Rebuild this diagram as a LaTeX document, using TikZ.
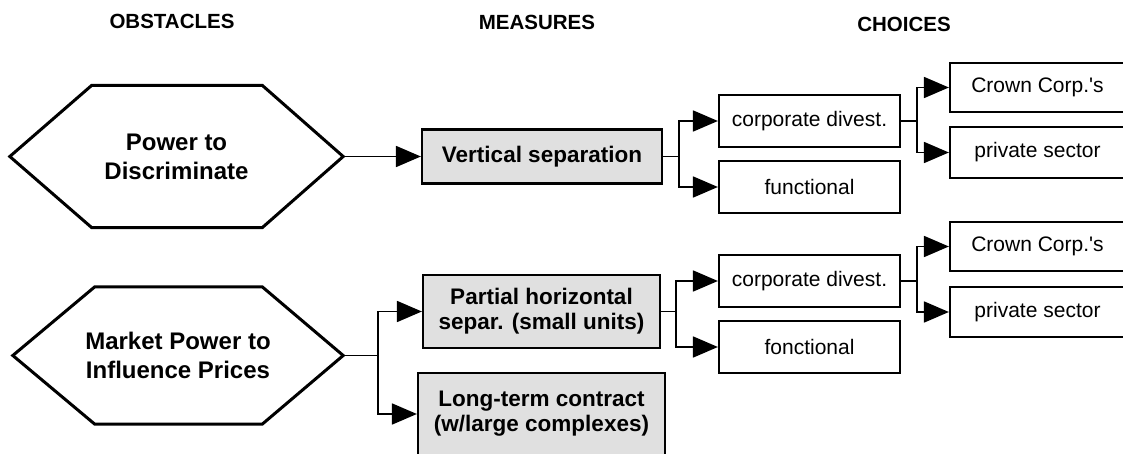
\documentclass[tikz,border=0pt]{standalone}
\usepackage{fontspec}
\setmainfont{Liberation Sans}
\usetikzlibrary{arrows.meta}
\definecolor{boxgray}{RGB}{224,224,224}
\begin{document}
\begin{tikzpicture}[x=1pt,y=-1pt,
  hdr/.style={font=\bfseries\fontsize{20.5}{24}\selectfont, inner sep=0},
  hexline/.style={line width=3pt, line join=miter},
  hextext/.style={font=\bfseries\fontsize{24}{29}\selectfont, align=center, inner sep=0},
  wbox/.style={draw, line width=2.2pt, fill=white, inner sep=0, minimum width=181pt, minimum height=52pt, font=\fontsize{21}{24}\selectfont},
  gbox/.style={draw, line width=2.2pt, fill=boxgray, inner sep=0, align=center, font=\bfseries\fontsize{22.5}{25}\selectfont},
  conn/.style={line width=1.8pt, -{Triangle[length=25pt,width=21pt]}},
]
\useasboundingbox (0,0) rectangle (1123,454);
\clip (0,0) rectangle (1123,454);

% headers
\node[hdr] (hobs) at (172,21.5) {OBSTACLES};
\node[hdr] (hmea) at (537,22) {MEASURES};
\node[hdr] (hcho) at (904,24) {CHOICES};

% obstacles (hexagons)
\node[hextext, minimum width=333pt, minimum height=142pt] (h1) at (176.5,156.5) {Power to\\Discriminate};
\draw[hexline] (h1.west) -- ([xshift=82pt]h1.north west) -- ([xshift=-81pt]h1.north east) -- (h1.east) -- ([xshift=-81pt]h1.south east) -- ([xshift=82pt]h1.south west) -- cycle;

\node[hextext, minimum width=330pt, minimum height=137pt] (h2) at (178,355.5) {Market Power to\\Influence Prices};
\draw[hexline] (h2.west) -- ([xshift=82pt]h2.north west) -- ([xshift=-81pt]h2.north east) -- (h2.east) -- ([xshift=-81pt]h2.south east) -- ([xshift=82pt]h2.south west) -- cycle;

% measures
\node[gbox, minimum width=240pt, minimum height=54pt] (vs) at (542,156.5) {Vertical separation};
\node[gbox, minimum width=237pt, minimum height=73pt] (hp) at (541.5,311.5) {Partial horizontal\\separ. (small units)};
\node[gbox, minimum width=247pt, minimum height=82pt] (lt) at (541.5,414) {Long-term contract\\(w/large complexes)};

% choices
\node[wbox] (cd1) at (809.5,121) {corporate divest.};
\node[wbox] (fn1) at (809.5,187) {functional};
\node[wbox, minimum width=175pt, minimum height=49pt] (cc1) at (1037.5,87.5) {Crown Corp.\textquotesingle s};
\node[wbox, minimum width=175pt, minimum height=51pt] (ps1) at (1037.5,152.5) {private sector};

\node[wbox] (cd2) at (809.5,281) {corporate divest.};
\node[wbox] (fn2) at (809.5,347) {fonctional};
\node[wbox, minimum width=175pt, minimum height=49pt] (cc2) at (1037.5,246.5) {Crown Corp.\textquotesingle s};
\node[wbox, minimum width=175pt, minimum height=50pt] (ps2) at (1037.5,312) {private sector};

% connectors
\draw[conn] (h1.east) -- (vs.west);
\draw[conn] (vs.east) -- ++(16,0) |- (cd1.west);
\draw[conn] (vs.east) -- ++(16,0) |- (fn1.west);
\draw[conn] (cd1.east) -- ++(16,0) |- (cc1.west);
\draw[conn] (cd1.east) -- ++(16,0) |- (ps1.west);

\draw[conn] (h2.east) -- ++(35,0) |- (hp.west);
\draw[conn] (h2.east) -- ++(35,0) |- (lt.west);
\draw[conn] (hp.east) -- ++(15,0) |- (cd2.west);
\draw[conn] (hp.east) -- ++(15,0) |- (fn2.west);
\draw[conn] (cd2.east) -- ++(16,0) |- (cc2.west);
\draw[conn] (cd2.east) -- ++(16,0) |- (ps2.west);
\end{tikzpicture}
\end{document}
